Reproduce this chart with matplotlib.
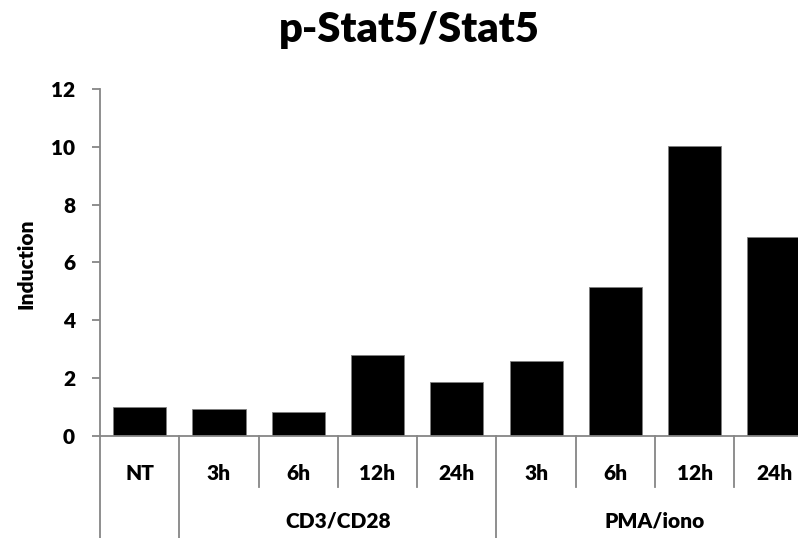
import matplotlib.pyplot as plt
from matplotlib.lines import Line2D

plt.rcParams['font.family'] = ['Lato', 'DejaVu Sans']

labels = ['NT', '3h', '6h', '12h', '24h', '3h', '6h', '12h', '24h']
values = [0.99, 0.94, 0.81, 2.81, 1.86, 2.6, 5.15, 10.03, 6.87]
groups = [('CD3/CD28', 1, 4), ('PMA/iono', 5, 8)]
yticks = [0, 2, 4, 6, 8, 10, 12]

W, H = 798, 538
fig = plt.figure(figsize=(W / 100, H / 100), dpi=100)
ax_l, ax_r, ax_top, ax_bot = 100, 100 + 9 * 79.3, 89, 435.7
ax = fig.add_axes([ax_l / W, 1 - ax_bot / H, (ax_r - ax_l) / W, (ax_bot - ax_top) / H])

x = list(range(len(values)))
ax.bar(x, values, width=0.67, color='black', edgecolor='#808080', linewidth=0.6)
ax.set_xlim(-0.5, len(values) - 0.5)
ax.set_ylim(0, 12)
ax.set_yticks(yticks)
ax.set_xticks([])

grey = '#868686'
wt = 'heavy'
for s in ['top', 'right']:
    ax.spines[s].set_visible(False)
ax.spines['left'].set_color(grey)
ax.spines['bottom'].set_color(grey)
ax.spines['left'].set_linewidth(1.3)
ax.spines['bottom'].set_linewidth(1.3)
ax.tick_params(axis='y', direction='out', length=6, width=1.3, color=grey,
               labelsize=15, pad=12)
for t in ax.get_yticklabels():
    t.set_fontweight(wt)

# multi-level category axis
ph = ax_bot - ax_top
def ay(py):
    return (ax_bot - py) / ph

tr = ax.get_xaxis_transform()
y_lab1 = ay(473)
y_lab2 = ay(521)
y_short = ay(487)
y_full = ay(560)
for i, lab in enumerate(labels):
    ax.text(i, y_lab1, lab, transform=tr, ha='center', va='center',
            fontsize=15, fontweight=wt)
for name, a, b in groups:
    ax.text((a + b) / 2, y_lab2, name, transform=tr, ha='center', va='center',
            fontsize=15, fontweight=wt)

full_lines = [-0.5, 0.5, 4.5]
for b in [i + 0.5 for i in range(-1, len(values))]:
    y_end = y_full if b in full_lines else y_short
    ax.add_line(Line2D([b, b], [0, y_end], transform=tr, color=grey,
                       linewidth=1.3, clip_on=False))

fig.text(26 / W, 1 - 264 / H, 'Induction', rotation=90, ha='center', va='center',
         fontsize=15, fontweight=wt)
fig.text(409 / W, 1 - 30 / H, 'p-Stat5/Stat5', ha='center', va='center',
         fontsize=30, fontweight=wt)

fig.savefig('out.png', dpi=100)
